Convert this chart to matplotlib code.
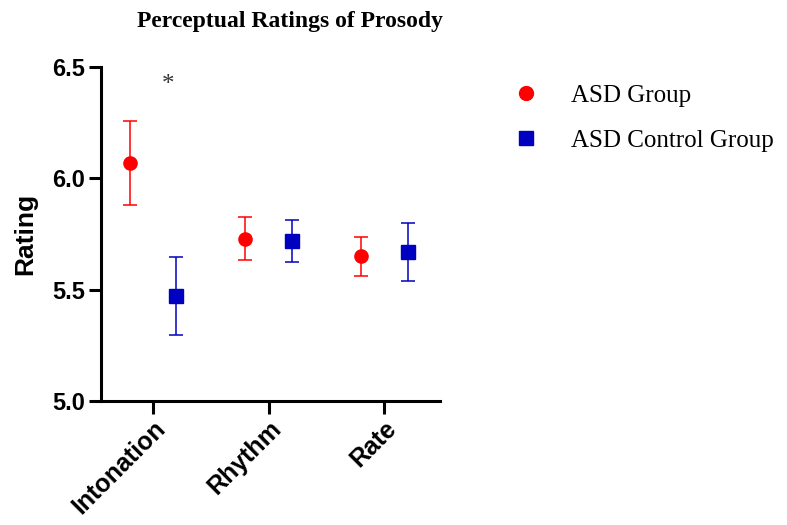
import matplotlib

matplotlib.use("Agg")
import matplotlib.pyplot as plt
from matplotlib.lines import Line2D
import numpy as np

categories = ["Intonation", "Rhythm", "Rate"]
asd_mean = [6.07, 5.73, 5.65]
asd_low = [5.88, 5.633, 5.561]
asd_high = [6.258, 5.826, 5.737]
ctrl_mean = [5.47, 5.72, 5.67]
ctrl_low = [5.297, 5.624, 5.539]
ctrl_high = [5.647, 5.813, 5.80]
series_labels = ["ASD Group", "ASD Control Group"]

RED = "#ff0000"
BLUE = "#0000c0"

fig = plt.figure(figsize=(7.87, 5.25), dpi=100)
ax = fig.add_axes([0.128, 0.236, 0.431, 0.636])

x = np.arange(len(categories))
off = 0.2


def draw(xs, mean, low, high, color, marker):
    mean = np.array(mean)
    err = [mean - np.array(low), np.array(high) - mean]
    ax.errorbar(xs, mean, yerr=err, fmt=marker, color=color, ms=9.5,
                ecolor=color, elinewidth=1.1, capsize=5, capthick=1.1)


draw(x - off, asd_mean, asd_low, asd_high, RED, "o")
draw(x + off, ctrl_mean, ctrl_low, ctrl_high, BLUE, "s")

ax.text(0.13, 6.42, "*", ha="center", va="center", fontsize=18,
        family="Liberation Serif", color="#333333")

ax.set_xlim(-0.45, 2.48)
ax.set_ylim(5.0, 6.5)
ax.set_yticks([5.0, 5.5, 6.0, 6.5])
ax.set_xticks(x)
ax.set_xticklabels(categories, rotation=45, ha="right", rotation_mode="anchor",
                   fontsize=18, fontweight="bold", family="Liberation Sans")
for lab in ax.get_yticklabels():
    lab.set_fontsize(17)
    lab.set_fontweight("bold")
    lab.set_family("Liberation Sans")
ax.set_ylabel("Rating", fontsize=19, fontweight="bold", family="Liberation Sans",
              labelpad=11)

for side in ["top", "right"]:
    ax.spines[side].set_visible(False)
for side in ["left", "bottom"]:
    ax.spines[side].set_linewidth(2.2)
ax.tick_params(axis="both", width=2.2, length=9, pad=2)

handles = [
    Line2D([], [], ls="none", marker="o", ms=10, color=RED),
    Line2D([], [], ls="none", marker="s", ms=9.5, color=BLUE),
]
ax.legend(handles, series_labels, loc="upper left", bbox_to_anchor=(1.15, 1.015),
          frameon=False, prop={"family": "Liberation Serif", "size": 18},
          handletextpad=1.3, labelspacing=0.9, handlelength=1.0)

fig.text(0.368, 0.96, "Perceptual Ratings of Prosody", ha="center", va="center",
         fontsize=17, fontweight="bold", family="Liberation Serif")

fig.savefig("out.png", dpi=100)
